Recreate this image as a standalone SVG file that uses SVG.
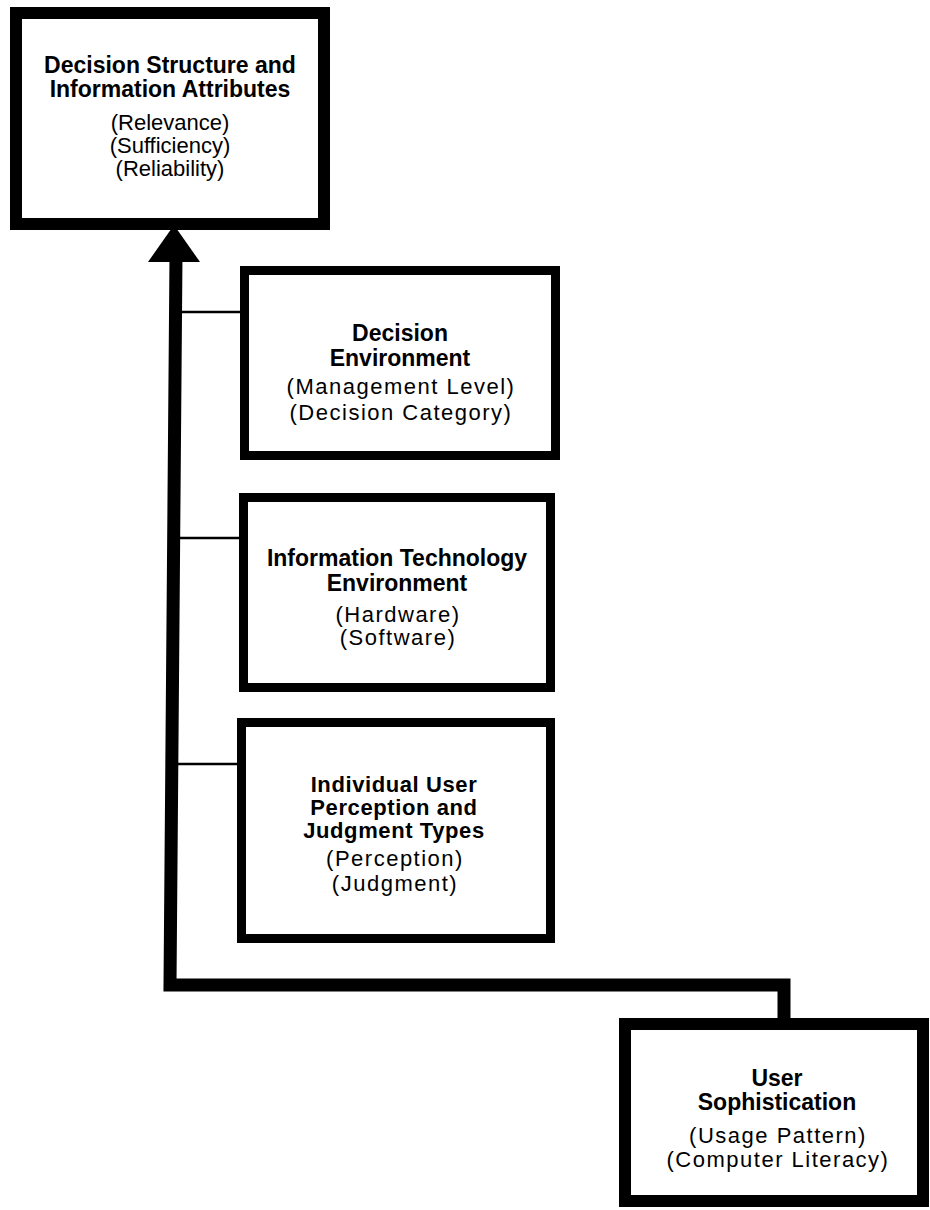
<svg xmlns="http://www.w3.org/2000/svg" width="930" height="1210" viewBox="0 0 930 1210">
<style>
  .box { fill: #ffffff; stroke: #000000; }
  .thick { stroke-width: 12; }
  .mid { stroke-width: 9; }
  .b { font-family: "Liberation Sans", Arial, sans-serif; font-weight: bold; font-size: 23px; text-anchor: middle; fill: #000; }
  .b3 { font-family: "Liberation Sans", Arial, sans-serif; font-weight: bold; font-size: 22px; letter-spacing: 0.6px; text-anchor: middle; fill: #000; }
  .r { font-family: "Liberation Sans", Arial, sans-serif; font-size: 22px; letter-spacing: 1.5px; text-anchor: middle; fill: #000; }
  .rt { font-family: "Liberation Sans", Arial, sans-serif; font-size: 22px; text-anchor: middle; fill: #000; }
  .conn { fill: none; stroke: #000; stroke-width: 13; stroke-linejoin: miter; stroke-linecap: butt; }
  .thin { fill: none; stroke: #000; stroke-width: 2.5; }
</style>
<rect width="930" height="1210" fill="#ffffff"/>
<g id="connectors">
  <path class="conn" d="M176,255 L170,985 L784,985 L784,1019"/>
  <polygon points="174,225 148,262 200,262" fill="#000"/>
  <line class="thin" x1="176" y1="312" x2="242" y2="312"/>
  <line class="thin" x1="175" y1="538" x2="241" y2="538"/>
  <line class="thin" x1="172" y1="764" x2="239" y2="764"/>
</g>
<g id="node-decision-structure">
  <rect class="box thick" x="16" y="13" width="308" height="211"/>
  <text class="b" x="170" y="73">Decision Structure and</text>
  <text class="b" x="170" y="97">Information Attributes</text>
  <text class="rt" x="170" y="130">(Relevance)</text>
  <text class="rt" x="170" y="153">(Sufficiency)</text>
  <text class="rt" x="170" y="176">(Reliability)</text>
</g>
<g id="node-decision-environment">
  <rect class="box mid" x="244.5" y="270.5" width="311" height="185"/>
  <text class="b" x="400" y="341">Decision</text>
  <text class="b" x="400" y="366">Environment</text>
  <text class="r" x="401" y="394">(Management Level)</text>
  <text class="r" x="401" y="420">(Decision Category)</text>
</g>
<g id="node-it-environment">
  <rect class="box mid" x="243.5" y="497.5" width="307" height="190"/>
  <text class="b" x="397" y="566">Information Technology</text>
  <text class="b" x="397" y="591">Environment</text>
  <text class="r" x="398" y="622">(Hardware)</text>
  <text class="r" x="398" y="645">(Software)</text>
</g>
<g id="node-user-perception">
  <rect class="box mid" x="241.5" y="722.5" width="309" height="216"/>
  <text class="b3" x="394" y="792">Individual User</text>
  <text class="b3" x="394" y="815">Perception and</text>
  <text class="b3" x="394" y="838">Judgment Types</text>
  <text class="r" x="395" y="866">(Perception)</text>
  <text class="r" x="395" y="891">(Judgment)</text>
</g>
<g id="node-user-sophistication">
  <rect class="box thick" x="625" y="1024" width="298" height="177"/>
  <text class="b" x="777" y="1086">User</text>
  <text class="b" x="777" y="1110">Sophistication</text>
  <text class="r" x="778" y="1143">(Usage Pattern)</text>
  <text class="r" x="778" y="1167">(Computer Literacy)</text>
</g>
</svg>
